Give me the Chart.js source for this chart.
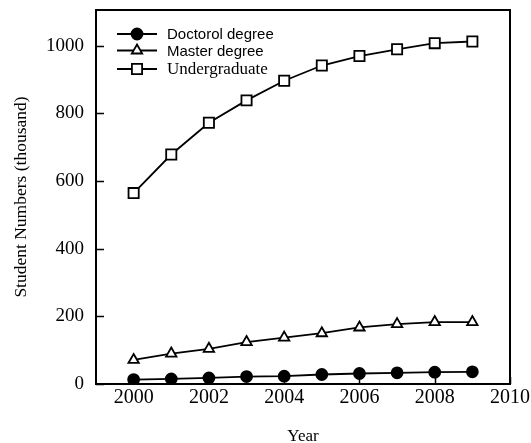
<!DOCTYPE html>
<html>
<head>
<meta charset="utf-8">
<script src="https://cdn.jsdelivr.net/npm/chart.js@4/dist/chart.umd.min.js"></script>
<style>
  html, body { margin: 0; padding: 0; background: #fff; }
  canvas { display: block; }
</style>
</head>
<body>
<canvas id="c" width="531" height="443"></canvas>
<script>
// Student enrolment by degree level (thousand)
const years = [2000, 2001, 2002, 2003, 2004, 2005, 2006, 2007, 2008, 2009];
const doctoral = [13, 15, 18, 22, 23, 28, 31, 33, 35, 36];
const master = [71, 90, 104, 124, 137, 150, 167, 177, 183, 183];
const undergraduate = [564, 678, 772, 838, 896, 941, 969, 989, 1007, 1012];
const xTicks = [2000, 2002, 2004, 2006, 2008, 2010];
const yTicks = [0, 200, 400, 600, 800, 1000];
const seriesNames = ['Doctorol degree', 'Master degree', 'Undergraduate'];

const SERIF = '"Liberation Serif", "Times New Roman", serif';
const SANS = '"Liberation Sans", Arial, sans-serif';

const pts = arr => arr.map((v, i) => ({ x: years[i], y: v }));

// Frame, inward tick marks and the in-plot legend
const framePlugin = {
  id: 'frame',
  beforeDatasetsDraw(chart) {
    const { ctx, chartArea: a, scales } = chart;
    ctx.save();
    ctx.strokeStyle = '#000';
    ctx.lineWidth = 1.5;
    ctx.beginPath();
    xTicks.forEach(v => {
      const px = Math.round(scales.x.getPixelForValue(v)) + 0.5;
      ctx.moveTo(px, a.bottom);
      ctx.lineTo(px, a.bottom - 7);
    });
    yTicks.forEach(v => {
      const py = Math.round(scales.y.getPixelForValue(v)) + 0.5;
      ctx.moveTo(a.left, py);
      ctx.lineTo(a.left + 8, py);
    });
    ctx.stroke();
    ctx.restore();
  },
  afterDraw(chart) {
    const { ctx, chartArea: a } = chart;
    ctx.save();
    ctx.strokeStyle = '#000';
    ctx.lineWidth = 2;
    ctx.strokeRect(a.left, a.top, a.right - a.left, a.bottom - a.top);

    const rows = [34, 50.5, 69];
    const fonts = ['15px ' + SANS, '15px ' + SANS, '17px ' + SERIF];
    chart.data.datasets.forEach((ds, i) => {
      const y = rows[i];
      ctx.strokeStyle = '#000';
      ctx.lineWidth = 1.8;
      ctx.beginPath();
      ctx.moveTo(117, y);
      ctx.lineTo(157, y);
      ctx.stroke();
      ctx.fillStyle = ds.pointBackgroundColor;
      ctx.strokeStyle = '#000';
      ctx.lineWidth = ds.pointBorderWidth;
      Chart.helpers.drawPoint(ctx, {
        pointStyle: ds.pointStyle,
        radius: ds.pointRadius,
        borderWidth: ds.pointBorderWidth,
        rotation: 0
      }, 137, y);
      ctx.fillStyle = '#000';
      ctx.font = fonts[i];
      ctx.textBaseline = 'middle';
      ctx.textAlign = 'left';
      ctx.fillText(ds.label, 167, y + 1);
    });
    ctx.restore();
  }
};

const lineStyle = {
  borderColor: '#000',
  borderWidth: 1.8,
  pointBorderColor: '#000',
  pointBorderWidth: 1.8,
  tension: 0,
  fill: false
};

new Chart(document.getElementById('c'), {
  type: 'line',
  data: {
    datasets: [
      Object.assign({ label: seriesNames[0], data: pts(doctoral), pointStyle: 'circle', pointRadius: 5.5, pointBackgroundColor: '#000' }, lineStyle),
      Object.assign({ label: seriesNames[1], data: pts(master), pointStyle: 'triangle', pointRadius: 6, pointBackgroundColor: '#fff' }, lineStyle),
      Object.assign({ label: seriesNames[2], data: pts(undergraduate), pointStyle: 'rect', pointRadius: 7.2, pointBackgroundColor: '#fff' }, lineStyle)
    ]
  },
  options: {
    responsive: false,
    animation: false,
    layout: { padding: { top: 10, right: 21, left: 0, bottom: 0 } },
    plugins: { legend: { display: false }, tooltip: { enabled: false } },
    scales: {
      x: {
        type: 'linear',
        min: 1999,
        max: 2010,
        afterBuildTicks: s => { s.ticks = xTicks.map(v => ({ value: v })); },
        afterFit: s => { s.height = 59; s.paddingLeft = 0; s.paddingRight = 0; },
        grid: { display: false, drawTicks: false },
        border: { display: false },
        ticks: { color: '#000', font: { family: SERIF, size: 20 }, padding: 2, maxRotation: 0, callback: v => String(v) },
        title: { display: true, text: 'Year', color: '#000', font: { family: SERIF, size: 17 }, padding: { top: 6, bottom: -4 } }
      },
      y: {
        type: 'linear',
        min: 0,
        max: 1105,
        afterBuildTicks: s => { s.ticks = yTicks.map(v => ({ value: v })); },
        afterFit: s => { s.width = 96; s.paddingTop = 0; s.paddingBottom = 0; },
        grid: { display: false, drawTicks: false },
        border: { display: false },
        ticks: { color: '#000', font: { family: SERIF, size: 19 }, padding: 12, callback: v => String(v) },
        title: { display: true, text: 'Student Numbers (thousand)', color: '#000', font: { family: SERIF, size: 17.5 }, padding: { top: 11, bottom: 0 } }
      }
    }
  },
  plugins: [framePlugin]
});
</script>
</body>
</html>
